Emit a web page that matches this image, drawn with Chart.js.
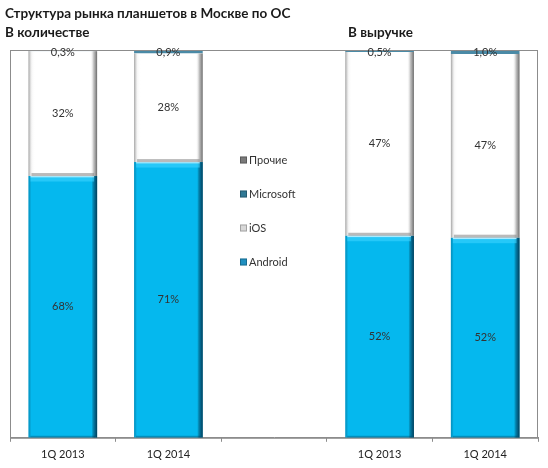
<!DOCTYPE html>
<html>
<head>
<meta charset="utf-8">
<script src="https://cdn.jsdelivr.net/npm/chart.js@4.4.1/dist/chart.umd.min.js"></script>
<style>
  body { margin: 0; background: #fff; }
  #wrap { position: relative; width: 548px; height: 468px; }
  .t { position: absolute; font-family: Lato, sans-serif; font-weight: bold; font-size: 13.5px; color: #1a1a1a; white-space: nowrap; }
</style>
</head>
<body>
<div id="wrap">
  <canvas id="c" width="548" height="468"></canvas>
  <div class="t" style="left:5px;top:5px">Структура рынка планшетов в Москве по ОС</div>
  <div class="t" style="left:5px;top:24px">В количестве</div>
  <div class="t" style="left:348px;top:24px">В выручке</div>
</div>
<script>
// categories: two groups, empty slot in the middle holds the legend
const categories = ['1Q 2013', '1Q 2014', '', '1Q 2013', '1Q 2014'];
const android   = [67.5, 71.1, null, 52.1, 51.6];
const ios       = [32.2, 28.0, null, 47.4, 47.4];
const microsoft = [0.3, 0.9, null, 0.5, 1.0];
const other     = [0, 0, null, 0, 0];

const seriesNames = ['Android', 'iOS', 'Microsoft', 'Прочие'];
const seriesColors = ['#05b8ee', '#ffffff', '#4a8aa6', '#808080'];
const swatchColors = ['#1f8fc0', '#d8d8d8', '#2f7894', '#7a7a7a'];

const pct = v => Math.round(v) + '%';
const pct1 = v => v.toFixed(1).replace('.', ',') + '%';

// bevel look + plot border
const bevel = {
  id: 'bevel',
  afterDatasetsDraw(chart) {
    const ctx = chart.ctx;
    [android, ios].forEach((arr, di) => {
      chart.getDatasetMeta(di).data.forEach((el, i) => {
        if (arr[i] == null) return;
        const l = el.x - el.width / 2, r = el.x + el.width / 2;
        const top = Math.min(el.y, el.base), bot = Math.max(el.y, el.base);
        ctx.save();
        const g = ctx.createLinearGradient(l, 0, r, 0);
        if (di === 0) {
          g.addColorStop(0, 'rgba(0,80,120,0.35)');
          g.addColorStop(0.04, 'rgba(0,0,0,0)');
          g.addColorStop(0.92, 'rgba(0,0,0,0)');
          g.addColorStop(0.96, 'rgba(0,50,80,0.55)');
          g.addColorStop(1, 'rgba(0,30,50,0.8)');
        } else {
          g.addColorStop(0, 'rgba(120,120,120,0.7)');
          g.addColorStop(0.05, 'rgba(230,230,230,0.3)');
          g.addColorStop(0.1, 'rgba(255,255,255,0)');
          g.addColorStop(0.9, 'rgba(255,255,255,0)');
          g.addColorStop(0.95, 'rgba(150,150,150,0.6)');
          g.addColorStop(1, 'rgba(90,90,90,0.9)');
        }
        ctx.fillStyle = g;
        ctx.fillRect(l, top, r - l, bot - top);
        if (di === 0) {
          ctx.fillStyle = 'rgba(190,240,255,0.9)';
          ctx.fillRect(l + 2, top, r - l - 5, 1.5);
          ctx.fillStyle = 'rgba(60,210,255,0.6)';
          ctx.fillRect(l + 2, top + 1.5, r - l - 5, 4);
          ctx.fillStyle = 'rgba(0,60,90,0.35)';
          ctx.fillRect(l + 2, bot - 2, r - l - 4, 2);
        } else {
          ctx.fillStyle = 'rgba(140,140,140,0.6)';
          ctx.fillRect(l + 3, bot - 3, r - l - 6, 3);
        }
        ctx.restore();
      });
    });
    const a = chart.chartArea;
    ctx.save();
    ctx.strokeStyle = '#8c8c8c';
    ctx.lineWidth = 1;
    ctx.strokeRect(a.left + 0.5, a.top + 0.5, a.right - a.left - 1, a.bottom - a.top);
    ctx.restore();
  }
};

// value labels
const valueLabels = {
  id: 'valueLabels',
  afterDraw(chart) {
    const ctx = chart.ctx;
    ctx.save();
    ctx.font = '11px Lato, sans-serif';
    ctx.fillStyle = '#333';
    ctx.textAlign = 'center';
    ctx.textBaseline = 'middle';
    [android, ios].forEach((arr, di) => {
      chart.getDatasetMeta(di).data.forEach((el, i) => {
        if (arr[i] == null) return;
        ctx.fillText(pct(arr[i]), el.x, (el.y + el.base) / 2);
      });
    });
    chart.getDatasetMeta(2).data.forEach((el, i) => {
      if (microsoft[i] == null) return;
      ctx.fillText(pct1(microsoft[i]), el.x, chart.chartArea.top + 2);
    });
    ctx.restore();
  }
};

// legend placed in the empty middle slot
const midLegend = {
  id: 'midLegend',
  afterDraw(chart) {
    const ctx = chart.ctx;
    const a = chart.chartArea;
    const cx = chart.scales.x.getPixelForValue(2);
    ctx.save();
    ctx.font = '11px Lato, sans-serif';
    ctx.textBaseline = 'middle';
    ctx.textAlign = 'left';
    const order = [3, 2, 1, 0];
    order.forEach((di, k) => {
      const y = a.top + 110 + k * 34;
      const x = cx - 34;
      ctx.fillStyle = swatchColors[di];
      ctx.fillRect(x, y - 3.5, 7, 7);
      ctx.strokeStyle = 'rgba(0,0,0,0.25)';
      ctx.strokeRect(x + 0.5, y - 3, 6, 6);
      ctx.fillStyle = '#333';
      ctx.fillText(seriesNames[di], x + 9, y + 0.5);
    });
    ctx.restore();
  }
};

const seriesData = [android, ios, microsoft, other];

new Chart(document.getElementById('c'), {
  type: 'bar',
  data: {
    labels: categories,
    datasets: seriesData.map((d, i) => ({
      label: seriesNames[i],
      data: d,
      backgroundColor: seriesColors[i],
      borderWidth: 0,
      barPercentage: 0.65,
      categoryPercentage: 1.0
    }))
  },
  options: {
    responsive: false,
    animation: false,
    layout: { padding: { left: 10, right: 10, top: 50, bottom: 1 } },
    plugins: { legend: { display: false }, tooltip: { enabled: false }, title: { display: false } },
    scales: {
      x: {
        stacked: true,
        grid: { display: true, drawOnChartArea: false, offset: true, color: '#8c8c8c', tickLength: 4 },
        border: { display: true, color: '#8c8c8c' },
        ticks: { color: '#222', font: { family: 'Lato, sans-serif', size: 11 }, padding: 6 }
      },
      y: {
        stacked: true,
        display: false,
        min: 0,
        max: 100
      }
    }
  },
  plugins: [bevel, valueLabels, midLegend]
});
</script>
</body>
</html>
